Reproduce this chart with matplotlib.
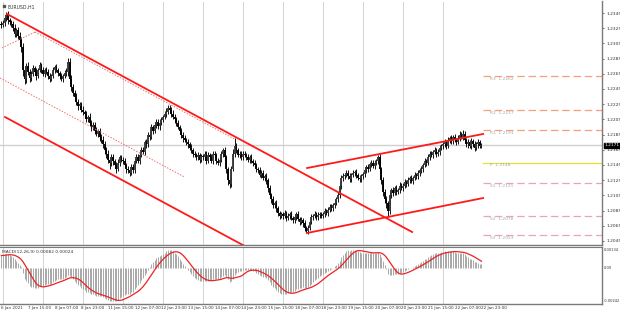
import numpy as np
import matplotlib
matplotlib.use("Agg")
import matplotlib.pyplot as plt
from matplotlib.transforms import blended_transform_factory

# ---------------- data (hourly closes, pips above 1.2000) ----------------
pre_close = [329]
d07 = [332,338,343,336,333,330,325,318,322,315,310,300,270,258,275,268,260,265,272,268,262,270,276,270]
d08 = [265,270,268,262,258,262,270,274,270,266,262,258,262,266,268,280,258,248,240,235,228,222,225,218]
d11 = [215,212,205,208,200,195,198,190,186,190,182,178,172,165,160,152,148,155,150,145,140,148,155,152]
d12 = [150,145,140,138,135,142,138,150,155,150,158,165,162,175,172,185,182,195,190,198,202,196,200,204]
d13 = [208,212,215,220,218,212,208,205,200,195,190,185,180,178,175,172,168,165,160,158,155,158,152,157]
d14 = [155,160,150,158,155,150,160,158,150,148,152,160,165,155,140,125,120,140,160,170,165,158,160,155]
d15 = [160,158,155,152,155,150,148,145,140,138,132,135,128,130,125,115,105,100,92,95,88,82,78,80]
d18 = [78,82,75,78,80,75,72,76,80,74,70,72,68,62,58,62,70,76,78,80,76,79,80,78]
d19 = [80,84,82,86,90,88,92,95,100,105,118,128,130,132,135,130,126,132,135,136,132,128,126,130]
d20 = [133,138,142,140,146,148,144,148,150,155,140,125,110,100,95,85,105,112,108,115,110,112,118,115]
d21 = [118,122,120,125,128,124,128,132,130,135,138,140,145,150,148,155,160,158,162,165,160,162,168,170]
d22 = [172,175,170,178,180,176,182,178,175,180,185,182,186,178,172,175,170,176,172,168,172,175,170,171]

# upper / lower wick lengths in pips
up_pre = [3]; dn_pre = [4]
up07 = [4,5,3,4,3,3,4,5,3,4,5,4,6,5,4,5,3,4,4,3,4,3,4,3]
dn07 = [3,4,3,5,4,3,4,4,5,4,5,6,8,7,5,4,6,4,3,4,5,3,3,4]
up08 = [4,3,4,3,4,3,4,3,4,3,3,4,3,4,4,6,6,5,4,4,5,4,3,3]
dn08 = [3,4,3,4,4,3,3,4,3,4,4,3,4,3,4,6,5,5,4,5,4,4,3,3]
up11 = [4,3,4,3,5,4,3,4,5,3,4,4,5,4,4,5,3,4,4,3,4,5,3,3]
dn11 = [4,5,3,4,4,5,4,4,3,4,5,4,4,5,6,5,8,4,5,4,5,3,4,3]
up12 = [3,4,3,4,3,4,4,3,4,4,3,4,4,3,4,4,3,4,3,4,3,4,5,4]
dn12 = [4,3,5,3,4,3,4,4,3,3,4,3,3,4,4,3,4,3,4,3,4,4,5,3]
up13 = [3,4,5,4,4,3,5,4,3,4,3,4,3,4,3,4,3,4,3,4,3,4,3,3]
dn13 = [3,3,4,3,4,4,3,5,4,3,4,4,5,3,4,4,3,4,4,3,4,3,4,3]
up14 = [3,4,3,4,3,4,3,4,3,4,3,4,3,4,3,3,4,4,6,11,4,3,3,3]
dn14 = [3,3,4,3,4,3,4,3,4,3,4,3,4,4,5,6,5,4,3,4,4,3,4,3]
up15 = [3,4,3,4,3,4,3,4,3,3,4,3,4,3,4,3,4,3,4,3,4,3,3,3]
dn15 = [4,3,4,3,4,3,4,3,4,4,3,4,3,4,5,5,4,5,4,4,5,4,4,3]
up18 = [3,4,3,4,3,4,3,4,3,4,3,4,3,4,3,4,3,4,3,4,3,4,3,3]
dn18 = [4,3,4,3,4,3,4,3,4,3,4,3,4,4,3,4,3,3,4,3,4,3,4,3]
up19 = [3,4,3,4,3,4,3,4,3,4,5,4,4,3,4,3,4,3,4,3,4,3,4,3]
dn19 = [3,4,3,4,3,4,3,4,3,4,3,5,4,4,3,4,3,4,3,4,4,3,4,3]
up20 = [3,4,3,4,3,4,3,4,3,3,4,3,4,3,4,3,4,3,4,3,4,3,4,3]
dn20 = [3,4,3,4,3,4,3,4,3,4,5,5,6,5,6,8,4,3,4,3,4,3,4,3]
up21 = [3,4,3,4,3,4,3,4,3,4,3,4,3,4,3,4,3,4,3,4,3,4,3,3]
dn21 = [4,3,4,3,4,3,4,3,4,3,4,3,4,3,4,3,4,3,4,3,4,3,4,3]
up22 = [3,4,3,4,3,4,3,4,3,4,5,4,5,4,3,4,3,4,3,4,3,4,3,3]
dn22 = [4,3,4,3,4,3,4,3,4,3,4,3,4,4,3,4,3,4,3,4,3,4,3,3]

time_labels = ["6 Jan 2021", "7 Jan 15:00", "8 Jan 07:00", "8 Jan 23:00", "11 Jan 15:00",
               "12 Jan 07:00", "12 Jan 23:00", "13 Jan 15:00", "14 Jan 07:00", "14 Jan 23:00",
               "15 Jan 15:00", "18 Jan 07:00", "18 Jan 23:00", "19 Jan 15:00", "20 Jan 07:00",
               "20 Jan 23:00", "21 Jan 15:00", "22 Jan 07:00", "22 Jan 23:00"]
price_ticks = [1.2045, 1.2065, 1.2085, 1.2105, 1.2125, 1.2145, 1.2165, 1.2185, 1.2205,
               1.2225, 1.2245, 1.2265, 1.2285, 1.2305, 1.2325, 1.2345]
current_price = 1.2171

# trend lines: (bar index, price)
desc_upper = [(3.4, 1.23437), (246.4, 1.20568)]
desc_lower = [(2.2, 1.22081), (160.0, 1.20217)]
dotted_handle = [(0.4, 1.22990), (20.2, 1.23200)]
dotted_mid = [(20.2, 1.23200), (140.0, 1.21790)]
dotted_low = [(-0.8, 1.22595), (110.0, 1.21290)]
asc_upper = [(183.4, 1.21410), (289.0, 1.21858)]
asc_lower = [(183.4, 1.20555), (289.0, 1.21015)]

pivot_names = ["R3", "R2", "R1", "P", "S1", "S2", "S3"]
pivot_values = [1.2262, 1.2217, 1.2191, 1.2148, 1.2121, 1.2078, 1.2053]
pivot_start = 289

macd_label = "MACD(12,26,9) 0.00082 0.00024"

# ---------------- build OHLC ----------------
closes = np.array(pre_close + d07 + d08 + d11 + d12 + d13 + d14 + d15 + d18 + d19 + d20 + d21 + d22, float)
ups = np.array(up_pre + up07 + up08 + up11 + up12 + up13 + up14 + up15 + up18 + up19 + up20 + up21 + up22, float)
dns = np.array(dn_pre + dn07 + dn08 + dn11 + dn12 + dn13 + dn14 + dn15 + dn18 + dn19 + dn20 + dn21 + dn22, float)
n = len(closes)
opens = np.concatenate([[closes[0] + 2], closes[:-1]])
highs = np.maximum(opens, closes) + ups
lows = np.minimum(opens, closes) - dns
c = 1.2 + closes / 1e4; o = 1.2 + opens / 1e4; h = 1.2 + highs / 1e4; l = 1.2 + lows / 1e4
idx = np.arange(n)

# MACD (12,26,9) with EMA seeds reflecting the rise before the window
def ema(x, span, seed):
    a = 2.0 / (span + 1)
    out = np.empty_like(x); prev = seed
    for k, v in enumerate(x):
        prev = prev + a * (v - prev); out[k] = prev
    return out
ema_f = ema(c, 12, c[0] - 0.0006)
ema_s = ema(c, 26, c[0] - 0.0016)
macd = ema_f - ema_s
pad = np.concatenate([np.full(8, 0.0009), macd])
signal = np.convolve(pad, np.ones(9) / 9, mode="valid")
macd_top = max(macd.max(), signal.max())
macd_bot = min(macd.min(), signal.min())

# ---------------- figure ----------------
W, H = 620, 314
fig = plt.figure(figsize=(6.2, 3.14), dpi=100)
def axrect(x0, y0, x1, y1):
    return [x0 / W, 1 - y1 / H, (x1 - x0) / W, (y1 - y0) / H]
ax = fig.add_axes(axrect(0, 1, 602, 245))
axm = fig.add_axes(axrect(0, 247, 602, 304))

XMIN, XMAX = -0.8, 360.3
for a in (ax, axm):
    a.set_xlim(XMIN, XMAX)
    a.set_facecolor("white")
    for s in ("left", "top"):
        a.spines[s].set_visible(False)
    for s in ("right", "bottom"):
        a.spines[s].set_color("#7a7a7a"); a.spines[s].set_linewidth(1.0)
    a.tick_params(axis="x", bottom=False, labelbottom=False)
axm.spines["top"].set_visible(True); axm.spines["top"].set_color("#7a7a7a")
ax.set_ylim(1.20397, 1.23608)

# day separators
day_starts = np.arange(1, n, 24)
for a in (ax, axm):
    for d in day_starts:
        a.axvline(d, color="#9a9a9a", lw=0.6, ls=(0, (1.2, 1.2)), zorder=0)

# current price line
ax.axhline(current_price, color="#d0d0d0", lw=1.0, zorder=1)

# candles
ax.vlines(idx, l, h, color="#111111", lw=0.7, zorder=3)
bull = c >= o
ax.vlines(idx[~bull], c[~bull], o[~bull], color="#000000", lw=1.35, zorder=4)
ax.vlines(idx[bull], o[bull], c[bull], color="#3a3a3a", lw=1.35, zorder=4)

def seg(p, **kw):
    (x0, y0), (x1, y1) = p
    ax.plot([x0, x1], [y0, y1], **kw)

red = "#ff1a1a"
seg(desc_upper, color=red, lw=1.3, zorder=5)
(x0, y0), (x1, y1) = desc_upper
slope = (y1 - y0) / (x1 - x0)
lx0, ly0 = desc_lower[0]
ax.plot([lx0, 200], [ly0, ly0 + slope * (200 - lx0)], color=red, lw=1.3, zorder=5)
for p in (dotted_handle, dotted_mid, dotted_low):
    seg(p, color="#f07070", lw=0.7, ls=(0, (1.5, 1.5)), zorder=5)
seg(asc_upper, color=red, lw=1.3, zorder=5)
seg(asc_lower, color=red, lw=1.3, zorder=5)

# pivots
for name, v in zip(pivot_names, pivot_values):
    if name == "P":
        col, ls = "#e8e030", "-"
    elif name.startswith("R"):
        col, ls = "#f5a07a", (0, (6, 3))
    else:
        col, ls = "#eaa6ae", (0, (6, 3))
    ax.plot([pivot_start, XMAX], [v, v], color=col, lw=0.9, ls=ls, zorder=2)
    ax.text(pivot_start + 4, v - 0.00035, f"{name}  {v:.4f}", fontsize=3.2,
            color="#a8a8a8", va="center", ha="left")

# price axis
ax.yaxis.tick_right()
ax.set_yticks(price_ticks)
ax.set_yticklabels([f"{p:.4f}" for p in price_ticks])
ax.tick_params(axis="y", labelsize=3.2, length=1.5, width=0.5, pad=1.5, colors="#333333")
tr = blended_transform_factory(ax.transAxes, ax.transData)
ax.text(1.004, current_price, f"{current_price:.4f}", transform=tr, fontsize=3.2,
        color="white", va="center", ha="left",
        bbox=dict(boxstyle="square,pad=0.12", fc="black", ec="black"))

ax.text(0.012, 0.985, "EURUSD,H1", transform=ax.transAxes, fontsize=3.3,
        color="#333333", va="top", ha="left")
ax.plot([0.006], [0.978], marker="s", ms=1.5, color="#555555", transform=ax.transAxes)

# MACD
span = macd_top - macd_bot
axm.set_ylim(macd_bot - 0.05 * span, macd_top + 0.05 * span)
axm.vlines(idx, 0, macd, color="#a8a8a8", lw=0.7, zorder=2)
axm.plot(idx, signal, color="#ee2222", lw=0.9, zorder=3)
axm.tick_params(axis="y", left=False, right=False, labelleft=False)
trm_y = blended_transform_factory(axm.transAxes, axm.transData)
axm.text(1.003, macd_top, f"{macd_top:.5f}", transform=trm_y, fontsize=2.6,
         color="#333333", va="center", ha="left")
axm.text(1.003, 0, "0.00", transform=trm_y, fontsize=2.6, color="#333333",
         va="center", ha="left")
axm.text(1.003, macd_bot, f"{macd_bot:.5f}", transform=trm_y, fontsize=2.6,
         color="#333333", va="center", ha="left")
axm.text(0.004, 0.95, macd_label, transform=axm.transAxes, fontsize=3.2,
         color="#333333", va="top", ha="left")

# time labels
trm = blended_transform_factory(axm.transData, axm.transAxes)
for k, lab in enumerate(time_labels):
    axm.text(16 * k, -0.04, lab, transform=trm, fontsize=3.0, color="#333333",
             va="top", ha="left")

fig.savefig("out.png", dpi=100, facecolor="white")
